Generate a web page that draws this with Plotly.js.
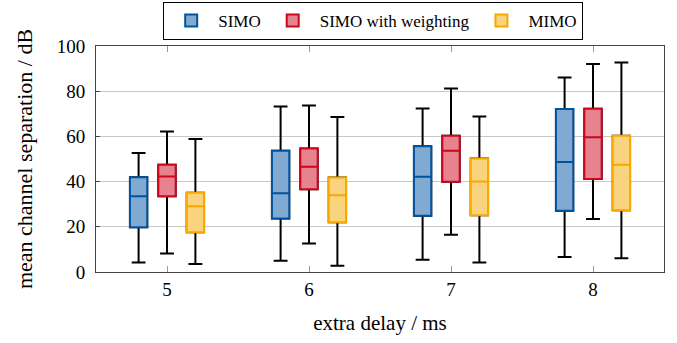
<!DOCTYPE html>
<html>
<head>
<meta charset="utf-8">
<script src="https://cdn.plot.ly/plotly-3.0.1.min.js"></script>
<style>html,body{margin:0;padding:0;background:#fff;}#chart{width:677px;height:343px;}</style>
</head>
<body>
<div id="chart"></div>
<script>
var delays = [5, 6, 7, 8];
var seriesNames = ["SIMO", "SIMO with weighting", "MIMO"];

// per series: lower whisker, q1, median, q3, upper whisker
var simoLower = [4.2, 5.0, 5.4, 6.6];
var simoQ1 = [19.8, 23.7, 24.9, 27.1];
var simoMedian = [33.5, 34.8, 42.1, 48.7];
var simoQ3 = [41.9, 53.7, 55.6, 72.1];
var simoUpper = [52.7, 73.2, 72.4, 86.1];

var weightLower = [8.2, 12.6, 16.5, 23.4];
var weightQ1 = [33.5, 36.6, 39.9, 41.2];
var weightMedian = [42.3, 46.6, 53.7, 59.6];
var weightQ3 = [47.5, 54.6, 60.3, 72.2];
var weightUpper = [62.2, 73.7, 81.2, 92.0];

var mimoLower = [3.5, 2.8, 4.2, 6.1];
var mimoQ1 = [17.6, 22.0, 25.1, 27.3];
var mimoMedian = [29.1, 34.0, 40.0, 47.5];
var mimoQ3 = [35.1, 41.8, 50.2, 60.3];
var mimoUpper = [58.8, 68.6, 68.8, 92.7];

var lineColors = ["rgb(0,84,159)", "rgb(204,7,30)", "rgb(246,168,0)"];
var fillColors = ["rgb(128,170,209)", "rgb(231,131,142)", "rgb(250,211,127)"];

var stats = [
  [simoLower, simoQ1, simoMedian, simoQ3, simoUpper],
  [weightLower, weightQ1, weightMedian, weightQ3, weightUpper],
  [mimoLower, mimoQ1, mimoMedian, mimoQ3, mimoUpper]
];

var traces = [];
// black whiskers underneath
stats.forEach(function (s, i) {
  traces.push({
    type: "box", x: delays, lowerfence: s[0], q1: s[1], median: s[2], q3: s[3], upperfence: s[4],
    offsetgroup: "g" + i, name: seriesNames[i], showlegend: false, hoverinfo: "skip",
    line: {color: "#000", width: 2}, fillcolor: fillColors[i], whiskerwidth: 0.8
  });
});
// coloured boxes on top
stats.forEach(function (s, i) {
  traces.push({
    type: "box", x: delays, lowerfence: s[1], q1: s[1], median: s[2], q3: s[3], upperfence: s[3],
    offsetgroup: "g" + i, name: seriesNames[i], showlegend: true,
    line: {color: lineColors[i], width: 2}, fillcolor: fillColors[i], whiskerwidth: 0
  });
});

var font = "Liberation Serif, Times New Roman, serif";
var layout = {
  width: 677, height: 343,
  margin: {l: 96, r: 13, t: 46, b: 71},
  paper_bgcolor: "#fff", plot_bgcolor: "#fff",
  font: {family: font, size: 17, color: "#000"},
  boxmode: "group", boxgap: 0.4, boxgroupgap: 0.39,
  showlegend: true,
  legend: {
    orientation: "h", xref: "paper", x: 0.488, xanchor: "center",
    yref: "container", y: 0.994, yanchor: "top",
    bordercolor: "#000", borderwidth: 1, font: {family: font, size: 17},
    traceorder: "normal", itemwidth: 44
  },
  xaxis: {
    range: [4.5, 8.5], tickvals: delays, ticktext: delays.map(String),
    ticks: "inside", ticklen: 6, tickcolor: "#999", mirror: "allticks",
    showline: true, linecolor: "#444", linewidth: 1, showgrid: false, zeroline: false,
    title: {text: "extra delay / ms", font: {family: font, size: 21}, standoff: 16},
    tickfont: {family: font, size: 19}
  },
  yaxis: {
    range: [0, 100], tickvals: [0, 20, 40, 60, 80, 100],
    ticks: "inside", ticklen: 4, tickcolor: "#444", ticklabelstandoff: 6,
    showline: true, linecolor: "#444", linewidth: 1, mirror: true,
    showgrid: true, gridcolor: "#c8c8c8", gridwidth: 1, zeroline: false,
    title: {text: "mean channel separation / dB", font: {family: font, size: 22}, standoff: 18},
    tickfont: {family: font, size: 19}
  }
};

Plotly.newPlot("chart", traces, layout, {displayModeBar: false, staticPlot: true});
</script>
</body>
</html>
